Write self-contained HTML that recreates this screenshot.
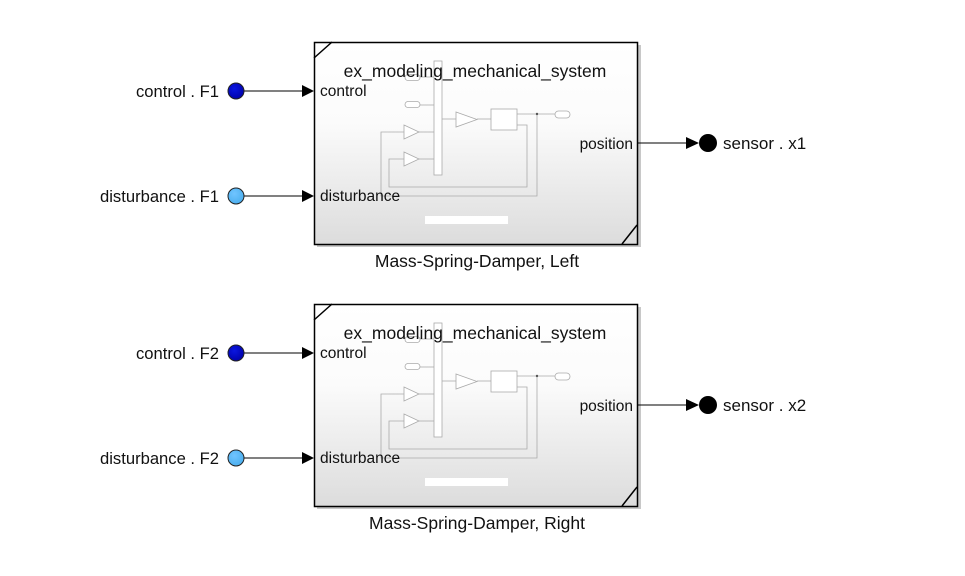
<!DOCTYPE html>
<html><head><style>body{margin:0;background:#fff}svg{display:block}text{font-family:"Liberation Sans",Arial,sans-serif}</style></head><body>
<svg width="965" height="576" viewBox="0 0 965 576" xmlns="http://www.w3.org/2000/svg">
<defs>
<linearGradient id="g" x1="0" y1="0" x2="0" y2="1"><stop offset="0" stop-color="#ffffff"/><stop offset="0.4" stop-color="#fbfbfb"/><stop offset="1" stop-color="#dcdcdc"/></linearGradient>
<radialGradient id="db" cx="0.4" cy="0.35" r="0.7"><stop offset="0" stop-color="#0a16e0"/><stop offset="1" stop-color="#0000a8"/></radialGradient>
<radialGradient id="lb" cx="0.4" cy="0.35" r="0.7"><stop offset="0" stop-color="#70c4ff"/><stop offset="1" stop-color="#4aaeee"/></radialGradient>
</defs>
<g id="b1">
<rect x="317" y="45" width="324" height="202" fill="#c8c8c8"/>
<rect x="314.5" y="42.5" width="323" height="202" fill="url(#g)" stroke="#000" stroke-width="1.5"/>
<line x1="314" y1="58" x2="332" y2="42" stroke="#000" stroke-width="1.5"/>
<line x1="622" y1="244" x2="637" y2="225" stroke="#000" stroke-width="1.5"/>
<g fill="none" stroke="#aaa" stroke-width="0.8">
<rect x="434" y="61" width="8" height="114" fill="#fff"/>
<rect x="405" y="74.5" width="15" height="6" rx="3" fill="#fff"/>
<line x1="420" y1="77" x2="434" y2="77"/>
<rect x="405" y="101.5" width="15" height="6" rx="3" fill="#fff"/>
<line x1="420" y1="105" x2="434" y2="105"/>
<polygon points="404,125 419,132 404,139" fill="#fff"/>
<line x1="419" y1="132" x2="434" y2="132"/>
<polygon points="404,152 419,159 404,166" fill="#fff"/>
<line x1="419" y1="159" x2="434" y2="159"/>
<line x1="442" y1="119" x2="456" y2="119"/>
<polygon points="456,112 477,119.5 456,127" fill="#fff"/>
<line x1="477" y1="119" x2="491" y2="119"/>
<rect x="491" y="109" width="26" height="21" fill="#fff"/>
<line x1="517" y1="114" x2="555" y2="114"/>
<rect x="555" y="111" width="15" height="7" rx="3.5" fill="#fff"/>
<polyline points="517,125 527,125 527,187 389,187 389,159 404,159"/>
<polyline points="537,114 537,196 381,196 381,132 404,132"/>
</g>
<circle cx="537" cy="114" r="1.2" fill="#555"/>
<rect x="425" y="216" width="83" height="8" fill="#fff"/>
<text x="475" y="77" font-size="17.5" text-anchor="middle" fill="#111">ex_modeling_mechanical_system</text>
<text x="320" y="96" font-size="15.5" fill="#111">control</text>
<text x="320" y="201" font-size="15.5" fill="#111">disturbance</text>
<text x="633" y="149" font-size="15.5" text-anchor="end" fill="#111">position</text>
<line x1="244" y1="91" x2="304" y2="91" stroke="#000"/>
<polygon points="302,85 314,91 302,97" fill="#000"/>
<line x1="244" y1="196" x2="304" y2="196" stroke="#000"/>
<polygon points="302,190 314,196 302,202" fill="#000"/>
<line x1="638" y1="143" x2="688" y2="143" stroke="#000"/>
<polygon points="686,137 699,143 686,149" fill="#000"/>
<circle cx="708" cy="143" r="9" fill="#000"/>
<circle cx="236" cy="196" r="8" fill="url(#lb)" stroke="#222" stroke-width="1"/>
</g>
<circle cx="236" cy="91" r="8" fill="url(#db)" stroke="#222" stroke-width="1"/>
<text x="219" y="97" font-size="16.6" text-anchor="end" fill="#111">control . F1</text>
<text x="219" y="202" font-size="16.6" text-anchor="end" fill="#111">disturbance . F1</text>
<text x="723" y="149" font-size="17" fill="#111">sensor . x1</text>
<text x="477" y="267" font-size="17.5" text-anchor="middle" fill="#111">Mass-Spring-Damper, Left</text>
<use href="#b1" transform="translate(0,262)"/>
<circle cx="236" cy="353" r="8" fill="url(#db)" stroke="#222" stroke-width="1"/>
<text x="219" y="359" font-size="16.6" text-anchor="end" fill="#111">control . F2</text>
<text x="219" y="464" font-size="16.6" text-anchor="end" fill="#111">disturbance . F2</text>
<text x="723" y="411" font-size="17" fill="#111">sensor . x2</text>
<text x="477" y="529" font-size="17.5" text-anchor="middle" fill="#111">Mass-Spring-Damper, Right</text>
</svg>
</body></html>
